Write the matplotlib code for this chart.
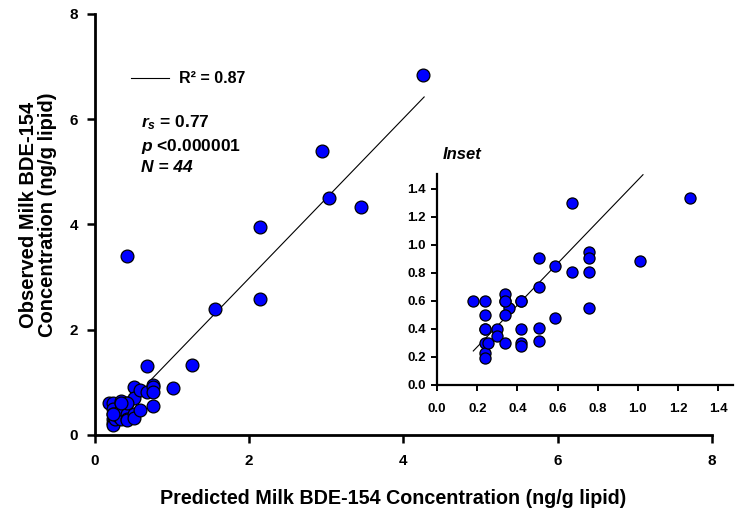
import numpy as np
import matplotlib
matplotlib.use('Agg')
import matplotlib.pyplot as plt
from matplotlib.ticker import FormatStrFormatter

plt.rcParams['font.family'] = ['Liberation Sans', 'DejaVu Sans']
plt.rcParams['font.weight'] = 'bold'
plt.rcParams['mathtext.fontset'] = 'custom'
plt.rcParams['mathtext.rm'] = 'Liberation Sans:bold'
plt.rcParams['mathtext.it'] = 'Liberation Sans:bold:italic'

# datos del recuadro (valores bajos)
pred_bajo = [0.18, 0.24, 0.24, 0.24, 0.24, 0.24, 0.24, 0.254, 0.30, 0.296, 0.337,
             0.337, 0.337, 0.357, 0.337, 0.42, 0.42, 0.42, 0.42, 0.506, 0.506,
             0.506, 0.506, 0.586, 0.586, 0.673, 0.673, 0.757, 0.757, 0.757,
             0.757, 1.01, 1.26, 0.42, 0.337, 0.24]
obs_bajo = [0.60, 0.60, 0.50, 0.40, 0.30, 0.226, 0.195, 0.30, 0.40, 0.352, 0.30,
            0.60, 0.65, 0.552, 0.50, 0.60, 0.40, 0.30, 0.28, 0.905, 0.70,
            0.405, 0.317, 0.852, 0.476, 1.30, 0.805, 0.952, 0.905, 0.805,
            0.552, 0.886, 1.333, 0.60, 0.60, 0.40]

# datos altos (solo en el grafico principal)
pred_alto = [4.25, 2.95, 3.03, 3.45, 2.14, 0.42, 2.14, 1.56]
obs_alto = [6.83, 5.40, 4.50, 4.33, 3.95, 3.40, 2.59, 2.40]

pred = np.array(pred_bajo + pred_alto)
obs = np.array(obs_bajo + obs_alto)

# linea de regresion
ajuste_x = [0.69, 4.27]
ajuste_y = [0.99, 6.42]
ajuste_x_inset = [0.18, 1.026]
ajuste_y_inset = [0.243, 1.502]

fig = plt.figure(figsize=(7.36, 5.11), dpi=100)
ax = fig.add_axes([0.129, 0.149, 0.838, 0.824])

ax.scatter(pred, obs, s=85, c='#0000ff', edgecolors='black', linewidths=0.9, zorder=3)
linea, = ax.plot(ajuste_x, ajuste_y, color='black', lw=0.8, zorder=2)

ax.set_xlim(0, 8)
ax.set_ylim(0, 8)
ax.set_xticks([0, 2, 4, 6, 8])
ax.set_yticks([0, 2, 4, 6, 8])
for lado in ['top', 'right']:
    ax.spines[lado].set_visible(False)
for lado in ['left', 'bottom']:
    ax.spines[lado].set_linewidth(2)
ax.tick_params(direction='out', length=6, width=1.8, labelsize=11)
ax.tick_params(axis='x', pad=8)
ax.tick_params(axis='y', pad=6)

ax.set_xlabel('Predicted Milk BDE-154 Concentration (ng/g lipid)', fontsize=14.2,
              fontweight='bold', labelpad=15)
ax.xaxis.label.set_x(0.484)
ax.set_ylabel('Observed Milk BDE-154\nConcentration (ng/g lipid)', fontsize=14.5,
              fontweight='bold', labelpad=9, linespacing=1.05)
ax.yaxis.label.set_y(0.523)

ax.legend([linea], ['R² = 0.87'], loc='center left', bbox_to_anchor=(0.058, 0.846),
          frameon=False, fontsize=11.5, handlelength=2.4, handletextpad=0.6,
          borderpad=0, borderaxespad=0)

ax.text(0.0746, 0.741, '$r_s$ = 0.77', transform=ax.transAxes, fontsize=12.5,
        fontweight='bold', va='center')
ax.text(0.0746, 0.686, '$p$ <0.000001', transform=ax.transAxes, fontsize=12.5,
        fontweight='bold', va='center')
ax.text(0.0746, 0.634, 'N = 44', transform=ax.transAxes, fontsize=12.5,
        fontweight='bold', fontstyle='italic', va='center')

# recuadro
axi = fig.add_axes([0.594, 0.2466, 0.402, 0.4137])
axi.scatter(pred_bajo, obs_bajo, s=64, c='#0000ff', edgecolors='black', linewidths=0.9,
            zorder=3, clip_on=False)
axi.plot(ajuste_x_inset, ajuste_y_inset, color='black', lw=0.8, zorder=2)
axi.set_xlim(0, 1.475)
axi.set_ylim(0, 1.51)
axi.set_xticks(np.arange(0, 1.41, 0.2))
axi.set_yticks(np.arange(0, 1.41, 0.2))
axi.xaxis.set_major_formatter(FormatStrFormatter('%.1f'))
axi.yaxis.set_major_formatter(FormatStrFormatter('%.1f'))
for lado in ['top', 'right']:
    axi.spines[lado].set_visible(False)
for lado in ['left', 'bottom']:
    axi.spines[lado].set_linewidth(1.6)
axi.tick_params(direction='out', length=4, width=1.4, labelsize=9.5)
axi.tick_params(axis='x', pad=9)
axi.tick_params(axis='y', pad=4)
axi.patch.set_alpha(0)
axi.text(0.02, 1.088, 'Inset', transform=axi.transAxes, fontsize=12,
         fontweight='bold', fontstyle='italic', va='center')

fig.savefig('out.png', dpi=100)
